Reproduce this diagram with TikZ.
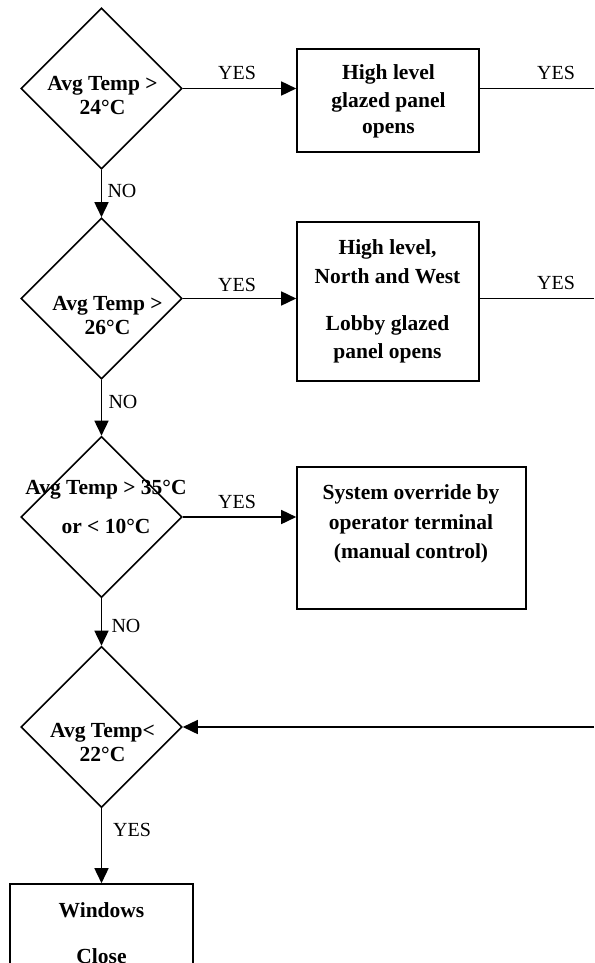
\documentclass[tikz,border=0pt]{standalone}
\usepackage{fontspec}
\setmainfont{Liberation Serif}
\usetikzlibrary{shapes.geometric,arrows.meta}
\begin{document}
\begin{tikzpicture}[x=1pt,y=-1pt,
  dec/.style={draw,diamond,minimum width=161pt,minimum height=161pt,inner sep=0pt,line width=1.6pt},
  procbox/.style={draw,rectangle,line width=1.6pt,inner sep=0pt},
  btxt/.style={font=\fontsize{21.5}{21.5}\selectfont\bfseries,align=center,inner sep=0pt,anchor=north},
  lbl/.style={font=\fontsize{20}{20}\selectfont,inner sep=0pt},
  flow/.style={line width=1.6pt,-{Triangle[length=15pt,width=14pt]}},
  plainline/.style={line width=1.6pt}]
\useasboundingbox (0,0) rectangle (594,963);
\clip (0,0) rectangle (594,963);

% decisions
\node[dec] (d1) at (101.5,88.5) {};
\node[dec] (d2) at (101.5,298.5) {};
\node[dec] (d3) at (101.5,517) {};
\node[dec] (d4) at (101.5,727) {};

\node[btxt] (t1) at (102.5,76.4) {Avg Temp >\\[2.5pt]24°C};
\node[btxt] (t2) at (107.5,296.4) {Avg Temp >\\[2.5pt]26°C};
\node[btxt] (t3) at (106,480.4) {Avg Temp > 35°C\\[17.5pt]or < 10°C};
\node[btxt] (t4) at (102.5,723.4) {Avg Temp<\\[2.5pt]22°C};

% boxes
\node[procbox,minimum width=182pt,minimum height=103pt] (b1) at (388,100.5) {};
\node[procbox,minimum width=182pt,minimum height=159pt] (b2) at (388,301.5) {};
\node[procbox,minimum width=229pt,minimum height=142pt] (b3) at (411.5,538) {};
\node[procbox,minimum width=183pt,minimum height=116pt] (b4) at (101.5,942) {};

\node[btxt] (bt1) at (388.5,64.4) {High level\\[6.5pt]glazed panel\\[4.5pt]opens};
\node[btxt] (bt2) at (387.5,239.4) {High level,\\[7.5pt]North and West\\[25.5pt]Lobby glazed\\[6.5pt]panel opens};
\node[btxt] (bt3) at (411,484.4) {System override by\\[8.5pt]operator terminal\\[7.5pt](manual control)};
\node[btxt] (bt4) at (101.5,902.4) {Windows\\[24.5pt]Close};

% free ends at the right edge
\coordinate (e1) at (594,88.5);
\coordinate (e2) at (594,298.5);
\coordinate (e3) at (594,727);

% connectors
\draw[flow] (d1.east) -- (d1.east -| b1.west);
\draw[plainline] (d1.east -| b1.east) -- (e1);
\draw[flow] (d1.south) -- (d2.north);
\draw[flow] (d2.east) -- (d2.east -| b2.west);
\draw[plainline] (d2.east -| b2.east) -- (e2);
\draw[flow] (d2.south) -- (d3.north);
\draw[flow] (d3.east) -- (d3.east -| b3.west);
\draw[flow] (d3.south) -- (d4.north);
\draw[flow] (e3) -- (d4.east);
\draw[flow] (d4.south) -- (b4.north);

% labels
\node[lbl] (y1) at (237,73) {YES};
\node[lbl] (y2) at (556,73) {YES};
\node[lbl] (y3) at (237,285) {YES};
\node[lbl] (y4) at (556,283) {YES};
\node[lbl] (y5) at (237,502) {YES};
\node[lbl] (y6) at (132,830) {YES};
\node[lbl] (n1) at (122,191) {NO};
\node[lbl] (n2) at (123,402) {NO};
\node[lbl] (n3) at (126,626) {NO};
\end{tikzpicture}
\end{document}
